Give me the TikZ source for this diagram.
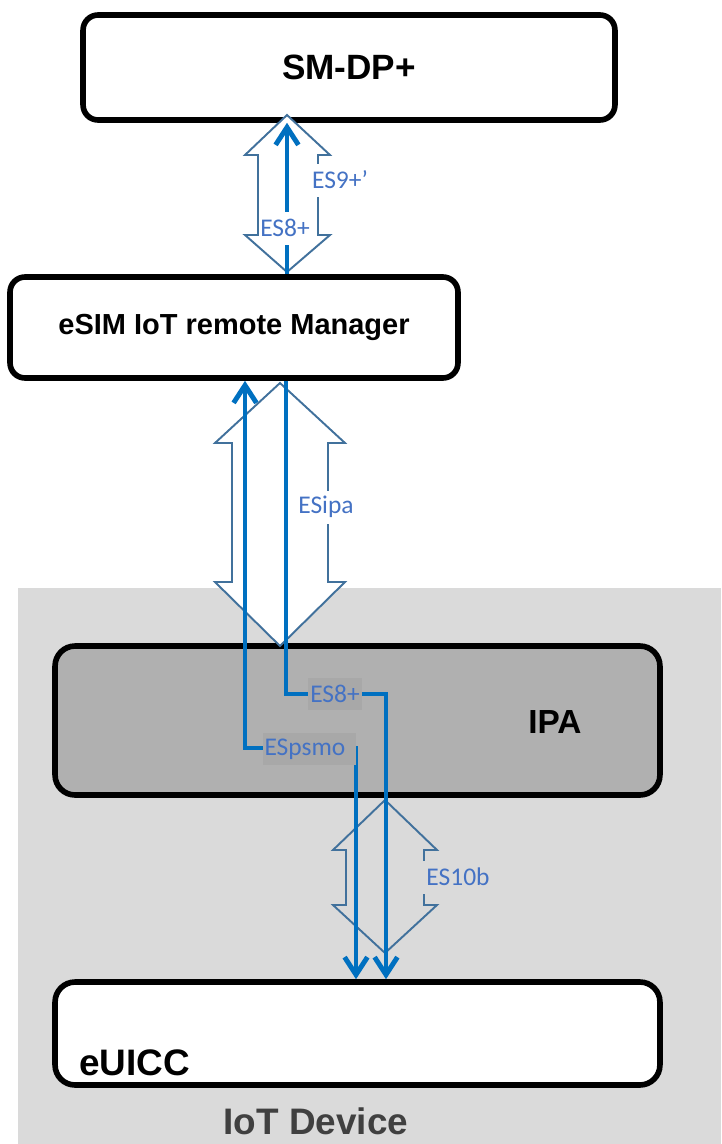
\documentclass[tikz,border=0pt]{standalone}
\usepackage{fontspec}
\setmainfont{Liberation Sans}
\newfontfamily\tagfont{Carlito}
\usetikzlibrary{arrows.meta}
\definecolor{sigblue}{HTML}{0070C0}
\definecolor{tagblue}{HTML}{4472C4}
\definecolor{blkedge}{HTML}{41719C}
\definecolor{devgray}{HTML}{DADADA}
\definecolor{ipagray}{HTML}{B0B0B0}
\definecolor{tagfill}{HTML}{A8A8A8}
\definecolor{devtext}{HTML}{404040}
\tikzset{
  >={Straight Barb[length=10pt,width=13pt]},
}
\tikzstyle{box}=[draw,line width=3.2pt,rounded corners=0.3cm,inner sep=0pt]
\tikzstyle{sig}=[draw=sigblue,line width=2.8pt]
\tikzstyle{blk}=[draw=blkedge,line width=1.1pt]
\tikzstyle{tag}=[font=\tagfont\fontsize{14.5}{16}\selectfont,text=tagblue,
  inner xsep=1pt,inner ysep=0pt,minimum height=0.66cm]

\begin{document}
\begin{tikzpicture}[x=0.02cm,y=-0.02cm]
    \useasboundingbox (0,0) rectangle (721,1144);
    % device area
    \node[fill=devgray,inner sep=0pt,minimum width=14.06cm,minimum height=11.12cm] (dev) at (369.5,866) {};
    \node[font=\bfseries\fontsize{21}{25}\selectfont,text=devtext] (devlbl) at (316,1121.5) {IoT Device};
    % boxes
    \node[box,fill=white,minimum width=10.64cm,minimum height=2.1cm,
      font=\bfseries\fontsize{20}{24}\selectfont] (smdp) at (349,67.5) {SM-DP+};
    \node[box,fill=white,minimum width=8.96cm,minimum height=2.02cm,
      font=\bfseries\fontsize{16.5}{20}\selectfont] (mgr) at (234,327.5) {eSIM IoT remote Manager};
    \node[box,fill=ipagray,rounded corners=0.4cm,minimum width=12.1cm,minimum height=2.98cm] (ipa) at (357.5,720.5) {};
    \node[font=\bfseries\fontsize{19}{23}\selectfont] (ipalbl) at (555,722) {IPA};
    \node[box,fill=white,rounded corners=0.4cm,minimum width=12.1cm,minimum height=2.06cm] (eu) at (357.5,1033.5) {};
    \node[anchor=base west,font=\bfseries\fontsize{21}{25}\selectfont,inner sep=0pt] (eulbl) at (79,1075) {eUICC};
    % block arrows
    \draw[blk,fill=white] (287,115) -- (330,155) -- (318,155) -- (318,235) -- (330,235) -- (287,272)
      -- (245,235) -- (258,235) -- (258,155) -- (245,155) -- cycle;
    \draw[blk,fill=white] (280,383) -- (345,443) -- (328,443) -- (328,582) -- (345,582) -- (280,646)
      -- (215,582) -- (232,582) -- (232,443) -- (215,443) -- cycle;
    \draw[blk] (385,800) -- (437,850) -- (424,850) -- (424,905) -- (437,905) -- (385,953)
      -- (333,905) -- (346,905) -- (346,850) -- (333,850) -- cycle;
    % signal lines
    \coordinate (up8) at (287,200);
    \draw[sig,->] (mgr.north -| up8) -- (smdp.south -| up8);
    \coordinate (ps1) at (245,748);
    \coordinate (ps2) at (356,748);
    \draw[sig,<->] (mgr.south -| ps1) -- (ps1) -- (ps2) -- (eu.north -| ps2);
    \coordinate (e81) at (286,694);
    \coordinate (e82) at (386,694);
    \draw[sig,->] (mgr.south -| e81) -- (e81) -- (e82) -- (eu.north -| e82);
    % interface labels
    \node[tag,fill=white,inner xsep=0.5pt] (es8top) at (285,228) {ES8+};
    \node[tag,fill=white] (es9) at (340,180) {ES9+’};
    \node[tag,fill=white,inner xsep=2pt] (esipa) at (326,507) {ESipa};
    \node[tag,fill=tagfill,minimum height=0.64cm] (es8ipa) at (335,694) {ES8+};
    \node[tag,fill=tagfill,minimum height=0.64cm,text width=1.8cm,align=left] (espsmo) at (309.5,749) {ESpsmo};
    \node[tag,fill=devgray,inner xsep=2pt] (es10b) at (458,877) {ES10b};
\end{tikzpicture}
\end{document}
